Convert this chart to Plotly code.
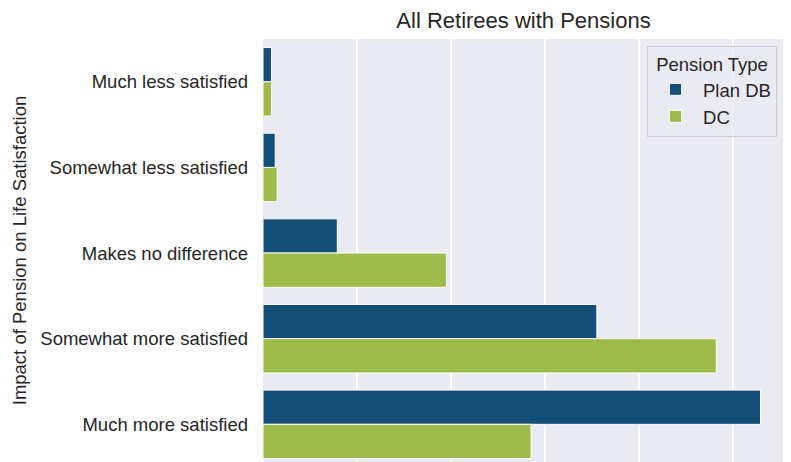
import plotly.graph_objects as go

# survey responses, share of retirees by pension type
categories = [
    "Much less satisfied",
    "Somewhat less satisfied",
    "Makes no difference",
    "Somewhat more satisfied",
    "Much more satisfied",
]
plan_db = [0.009, 0.013, 0.079, 0.355, 0.529]
dc = [0.009, 0.015, 0.195, 0.482, 0.285]

DB_COLOR = "#154f77"
DC_COLOR = "#9dbb4b"
FONT = "Liberation Sans, Arial, sans-serif"

fig = go.Figure()
fig.add_trace(go.Bar(
    y=categories, x=plan_db, name="Plan DB", orientation="h",
    marker=dict(color=DB_COLOR, line=dict(color="white", width=1)),
))
fig.add_trace(go.Bar(
    y=categories, x=dc, name="DC", orientation="h",
    marker=dict(color=DC_COLOR, line=dict(color="white", width=1)),
))

# page body has an 8px margin, so the figure is 8px smaller each way
fig.update_layout(
    width=783, height=454,
    margin=dict(l=255, r=7, t=31, b=0),
    paper_bgcolor="white",
    plot_bgcolor="#eaeaf2",
    font=dict(family=FONT, size=18.5, color="#262626"),
    barmode="group",
    bargap=0.2,
    bargroupgap=0,
    title=dict(
        text="All Retirees with Pensions",
        x=0.5, xref="paper", xanchor="center",
        y=1, yref="paper", yanchor="bottom", pad=dict(b=11),
        font=dict(size=22, color="#262626"),
    ),
    legend=dict(
        title=dict(text="Pension Type", side="top center", font=dict(size=18.5)),
        x=0.9866, y=0.984, xanchor="right", yanchor="top",
        bgcolor="rgba(234,234,242,0.8)",
        bordercolor="#cccccc", borderwidth=1,
        font=dict(size=18.5),
        itemwidth=45,
        tracegroupgap=2,
    ),
    showlegend=True,
)

fig.update_xaxes(
    range=[0, 0.554], dtick=0.1, showticklabels=False,
    showgrid=True, gridcolor="white", gridwidth=1.5,
    zeroline=False, showline=False, automargin=False,
)
fig.update_yaxes(
    categoryorder="array", categoryarray=categories,
    range=[4.44, -0.5],
    showgrid=False, zeroline=False, showline=False,
    ticks="", ticklabelstandoff=14, automargin=False,
    title=dict(text="Impact of Pension on Life Satisfaction", standoff=8,
               font=dict(size=18.5)),
)

fig.write_html("out.html")
